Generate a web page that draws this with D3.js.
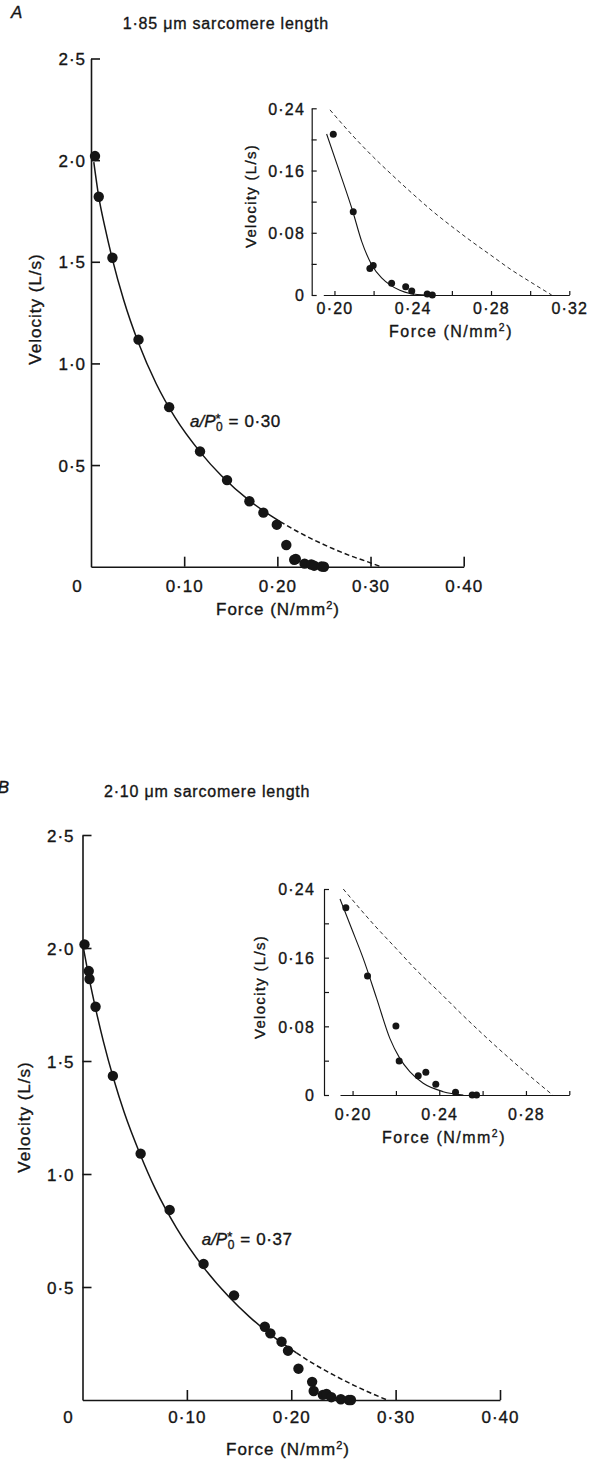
<!DOCTYPE html>
<html><head><meta charset="utf-8">
<script src="https://cdn.jsdelivr.net/npm/d3@7"></script>
<style>
body{margin:0;background:#fff}
svg{display:block}
text{font-family:"Liberation Sans",Arial,Helvetica,sans-serif;fill:#151515;stroke:#151515;stroke-width:0.35px}
</style>
</head><body>
<svg id="c" width="589" height="1460"></svg>
<script>
// ---------- data ----------
const panelLetters = ["A", "B"];
const titles = ["1·85 μm sarcomere length", "2·10 μm sarcomere length"];
const ratioValues = ["0·30", "0·37"];

const mainYTicks = [0.5, 1.0, 1.5, 2.0, 2.5];
const mainYTickLabels = ["0·5", "1·0", "1·5", "2·0", "2·5"];
const mainXTicks = [0.1, 0.2, 0.3, 0.4];
const mainXTickLabels = ["0·10", "0·20", "0·30", "0·40"];

const insetYTicks = [0, 0.04, 0.08, 0.12, 0.16, 0.20, 0.24];
const insetYTickLabels = ["0", "", "0·08", "", "0·16", "", "0·24"];
const insetXTicksA = [0.20, 0.22, 0.24, 0.26, 0.28, 0.30, 0.32];
const insetXTickLabelsA = ["0·20", "", "0·24", "", "0·28", "", "0·32"];
const insetXTicksB = [0.20, 0.22, 0.24, 0.26, 0.28, 0.30];
const insetXTickLabelsB = ["0·20", "", "0·24", "", "0·28", ""];

// Panel A measured points (force N/mm2, velocity L/s)
const forceA = [0.0043, 0.0083, 0.023, 0.051, 0.0839, 0.117, 0.146, 0.170, 0.185, 0.1994, 0.2096, 0.2181, 0.2198, 0.2292, 0.2364, 0.2395, 0.2474, 0.2500];
const velA   = [2.02, 1.82, 1.52, 1.117, 0.785, 0.567, 0.426, 0.322, 0.266, 0.2067, 0.107, 0.034, 0.038, 0.015, 0.0107, 0.005, 0.0013, 0.0];
// Panel A fitted curve
const fitSolidForceA = [0.003, 0.0083, 0.015, 0.023, 0.035, 0.051, 0.07, 0.09, 0.117, 0.14, 0.17, 0.19, 0.203];
const fitSolidVelA   = [1.99, 1.82, 1.669, 1.512, 1.313, 1.10, 0.900, 0.7355, 0.565, 0.447, 0.325, 0.260, 0.222];
const fitDashForceA  = [0.203, 0.22, 0.24, 0.26, 0.28, 0.30, 0.311];
const fitDashVelA    = [0.222, 0.177, 0.130, 0.088, 0.051, 0.019, 0.0];
const insetSolidForceA = [0.1960, 0.2028, 0.2093, 0.2139, 0.2190, 0.2241, 0.2284, 0.2334, 0.2386, 0.2474];
const insetSolidVelA   = [0.207, 0.157, 0.108, 0.069, 0.039, 0.022, 0.013, 0.006, 0.002, 0.0];
const insetDashForceA  = [0.1977, 0.21, 0.22, 0.23, 0.24, 0.25, 0.26, 0.27, 0.28, 0.29, 0.30, 0.311];
const insetDashVelA    = [0.238, 0.203, 0.177, 0.153, 0.130, 0.108, 0.088, 0.069, 0.051, 0.033, 0.017, 0.0];

// Panel B measured points
const forceB = [0.0019, 0.006, 0.0067, 0.0125, 0.0291, 0.0557, 0.0835, 0.116, 0.1452, 0.1747, 0.180, 0.1907, 0.1969, 0.2069, 0.2200, 0.2215, 0.2303, 0.2338, 0.2384, 0.2475, 0.2552, 0.2572];
const velB   = [2.016, 1.898, 1.863, 1.740, 1.434, 1.090, 0.841, 0.602, 0.463, 0.324, 0.295, 0.258, 0.2182, 0.1386, 0.0804, 0.0396, 0.0225, 0.0264, 0.0124, 0.0031, 0.0, 0.0];
const fitSolidForceB = [0.0005, 0.006, 0.0125, 0.02, 0.03, 0.04, 0.055, 0.07, 0.09, 0.116, 0.14, 0.16, 0.18, 0.205];
const fitSolidVelB   = [2.01, 1.874, 1.733, 1.587, 1.418, 1.272, 1.09, 0.932, 0.762, 0.587, 0.458, 0.368, 0.290, 0.208];
const fitDashForceB  = [0.205, 0.22, 0.24, 0.26, 0.28, 0.292];
const fitDashVelB    = [0.208, 0.164, 0.112, 0.065, 0.023, 0.0];
const insetSolidForceB = [0.1942, 0.1995, 0.2049, 0.2111, 0.2172, 0.2218, 0.2264, 0.2326, 0.2418, 0.2511];
const insetSolidVelB   = [0.2284, 0.1942, 0.1592, 0.1126, 0.066, 0.0427, 0.0272, 0.0136, 0.0039, 0.0];
const insetDashForceB  = [0.1957, 0.21, 0.22, 0.23, 0.24, 0.25, 0.26, 0.27, 0.28, 0.2923];
const insetDashVelB    = [0.240, 0.198, 0.171, 0.144, 0.120, 0.095, 0.071, 0.048, 0.026, 0.0];

// ---------- layout ----------
const layouts = [
  { mxRange:[91,463.7], myRange:[566.7,58.5], ylabPad:5, xlabPad:13.3, zeroDx:-14,
    forceTitle:[278,615], velTitle:[35,309], title:[122.7,29], letter:[11,18,"start"], ratio:[190,427],
    ixDomain:[0.1943,0.32], ixRange:[323.3,569.3], iyRange:[295,108.3], iyAxisX:311.7,
    iylabPad:6.7, ixlabPad:7.6, iForce:[451,337], iVel:[250,196] },
  { mxRange:[82.5,500], myRange:[1400,835], ylabPad:8, xlabPad:11.4, zeroDx:-14.5,
    forceTitle:[288,1455], velTitle:[24,1117], title:[104,797], letter:[9,793,"end"], ratio:[201.7,1245],
    ixDomain:[0.1942,0.30], ixRange:[340,569.3], iyRange:[1095,889], iyAxisX:324,
    iylabPad:9, ixlabPad:13.6, iForce:[444,1143], iVel:[259,987] }
];

const panels = [
  { force:forceA, vel:velA, solid:[fitSolidForceA, fitSolidVelA], dash:[fitDashForceA, fitDashVelA],
    iSolid:[insetSolidForceA, insetSolidVelA], iDash:[insetDashForceA, insetDashVelA],
    ixTicks:insetXTicksA, ixLabels:insetXTickLabelsA, iMinF:0.19 },
  { force:forceB, vel:velB, solid:[fitSolidForceB, fitSolidVelB], dash:[fitDashForceB, fitDashVelB],
    iSolid:[insetSolidForceB, insetSolidVelB], iDash:[insetDashForceB, insetDashVelB],
    ixTicks:insetXTicksB, ixLabels:insetXTickLabelsB, iMinF:0.193 }
];

const svg = d3.select("#c");
const INK = "#151515";

function styleAxis(g, w, size, ls) {
  g.attr("font-size", null).attr("font-family", null);
  g.select(".domain").attr("stroke", INK).attr("stroke-width", w).attr("fill", "none");
  g.selectAll(".tick line").attr("stroke", INK).attr("stroke-width", w);
  g.selectAll(".tick text").attr("fill", INK).style("font-size", size + "px").style("letter-spacing", ls + "px");
}

function forceTitle(g, x, y, size, ls) {
  const t = g.append("text").attr("x", x).attr("y", y).attr("text-anchor", "middle")
    .style("font-size", size + "px").style("letter-spacing", ls + "px");
  t.append("tspan").text("Force (N/mm");
  t.append("tspan").attr("dy", -6).style("font-size", (size * 0.65) + "px").text("2");
  t.append("tspan").attr("dy", 6).text(")");
}

function velTitle(g, x, y, size, ls) {
  g.append("text").attr("transform", `translate(${x},${y}) rotate(-90)`)
    .attr("text-anchor", "middle").attr("dominant-baseline", "central")
    .style("font-size", size + "px").style("letter-spacing", ls + "px")
    .text("Velocity (L/s)");
}

panels.forEach((p, i) => {
  const L = layouts[i];
  const g = svg.append("g");

  // ---- main plot ----
  const x = d3.scaleLinear().domain([0, 0.4]).range(L.mxRange);
  const y = d3.scaleLinear().domain([0, 2.5]).range(L.myRange);

  const yAx = g.append("g").attr("transform", `translate(${x(0)},0)`)
    .call(d3.axisLeft(y).tickValues(mainYTicks).tickFormat((d, k) => mainYTickLabels[k])
      .tickSizeInner(-9).tickSizeOuter(0).tickPadding(L.ylabPad));
  styleAxis(yAx, 1.6, 17, 1);
  yAx.selectAll(".tick text").attr("dy", "0.36em");

  const xAx = g.append("g").attr("transform", `translate(0,${y(0)})`)
    .call(d3.axisBottom(x).tickValues(mainXTicks).tickFormat((d, k) => mainXTickLabels[k])
      .tickSizeInner(-10).tickSizeOuter(0).tickPadding(L.xlabPad));
  styleAxis(xAx, 1.6, 17, 1);

  g.append("text").attr("x", x(0) + L.zeroDx).attr("y", y(0) + L.xlabPad).attr("dy", "0.71em")
    .attr("text-anchor", "middle").style("font-size", "17px").text("0");

  forceTitle(g, L.forceTitle[0], L.forceTitle[1], 17, 1);
  velTitle(g, L.velTitle[0], L.velTitle[1], 17, 1);

  g.append("text").attr("x", L.title[0]).attr("y", L.title[1])
    .style("font-size", "16px").style("letter-spacing", "0.8px").text(titles[i]);
  g.append("text").attr("x", L.letter[0]).attr("y", L.letter[1]).attr("text-anchor", L.letter[2])
    .style("font-size", "17px").style("font-style", "italic").text(panelLetters[i]);

  const line = d3.line().x(d => x(d[0])).y(d => y(d[1])).curve(d3.curveMonotoneX);
  const solidPts = p.solid[0].map((f, k) => [f, p.solid[1][k]]);
  const dashPts = p.dash[0].map((f, k) => [f, p.dash[1][k]]);
  g.append("path").attr("d", line(solidPts)).attr("fill", "none").attr("stroke", INK).attr("stroke-width", 1.5);
  g.append("path").attr("d", line(dashPts)).attr("fill", "none").attr("stroke", INK).attr("stroke-width", 1.5)
    .attr("stroke-dasharray", "5,3");

  g.append("g").selectAll("circle").data(p.force.map((f, k) => [f, p.vel[k]])).join("circle")
    .attr("cx", d => x(d[0])).attr("cy", d => y(d[1])).attr("r", 5.2).attr("fill", INK);

  // ratio label  a/P0* = value  (single text element with stacked sub/superscript)
  const rt = g.append("text").attr("x", L.ratio[0]).attr("y", L.ratio[1]).style("font-size", "17px");
  rt.append("tspan").style("font-style", "italic").text("a/P");
  rt.append("tspan").attr("dx", 0.5).attr("dy", 4).style("font-size", "12px").text("0");
  rt.append("tspan").attr("dx", -7.2).attr("dy", -8).style("font-size", "13px").text("*");
  rt.append("tspan").attr("dx", 8).attr("dy", 4).style("letter-spacing", "0.6px").text("= " + ratioValues[i]);

  // ---- inset ----
  const xi = d3.scaleLinear().domain(L.ixDomain).range(L.ixRange);
  const yi = d3.scaleLinear().domain([0, 0.24]).range(L.iyRange);

  const iyAx = g.append("g").attr("transform", `translate(${L.iyAxisX},0)`)
    .call(d3.axisLeft(yi).tickValues(insetYTicks).tickFormat((d, k) => insetYTickLabels[k])
      .tickSizeInner(-5).tickSizeOuter(0).tickPadding(L.iylabPad));
  styleAxis(iyAx, 1.2, 16, 1.2);
  iyAx.selectAll(".tick text").attr("dy", "0.36em");

  const ixAx = g.append("g").attr("transform", `translate(0,${yi(0)})`)
    .call(d3.axisBottom(xi).tickValues(p.ixTicks).tickFormat((d, k) => p.ixLabels[k])
      .tickSizeInner(-4).tickSizeOuter(0).tickPadding(L.ixlabPad));
  styleAxis(ixAx, 1.2, 16, 1.2);

  forceTitle(g, L.iForce[0], L.iForce[1], 16, 1.5);
  velTitle(g, L.iVel[0], L.iVel[1], 15, 1.3);

  const iline = d3.line().x(d => xi(d[0])).y(d => yi(d[1])).curve(d3.curveMonotoneX);
  const iSolidPts = p.iSolid[0].map((f, k) => [f, p.iSolid[1][k]]);
  const iDashPts = p.iDash[0].map((f, k) => [f, p.iDash[1][k]]);
  g.append("path").attr("d", iline(iSolidPts)).attr("fill", "none").attr("stroke", INK).attr("stroke-width", 1.1);
  g.append("path").attr("d", iline(iDashPts)).attr("fill", "none").attr("stroke", INK).attr("stroke-width", 0.9)
    .attr("stroke-dasharray", "4,3");

  const iPts = p.force.map((f, k) => [f, p.vel[k]]).filter(d => d[0] > p.iMinF && d[1] <= 0.24);
  g.append("g").selectAll("circle").data(iPts).join("circle")
    .attr("cx", d => xi(d[0])).attr("cy", d => yi(d[1])).attr("r", 3.5).attr("fill", INK);
});
</script>
</body></html>
